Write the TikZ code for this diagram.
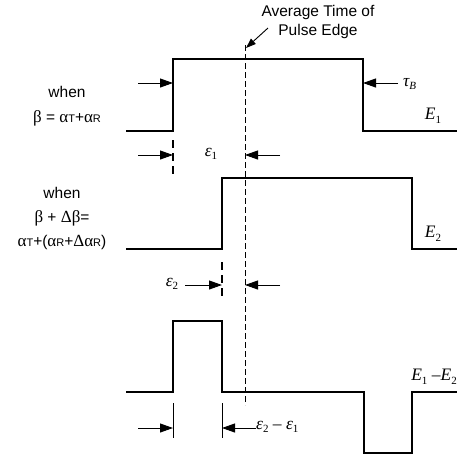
\documentclass[tikz,border=0pt]{standalone}
\usepackage{fontspec}
\setmainfont{Liberation Sans}
\newfontfamily\grk{Liberation Serif}
\usetikzlibrary{arrows.meta}
\newcommand{\sbs}[1]{{\fontsize{11}{12}\selectfont #1}}
\newcommand{\ms}[1]{\raisebox{-3.5pt}{\fontsize{11}{12}\selectfont\upshape #1}}
\newcommand{\mis}[1]{\raisebox{-3.5pt}{\fontsize{11}{12}\selectfont #1}}
\newcommand{\gk}[1]{{\grk\fontsize{17}{19}\selectfont #1}}
\begin{document}
\begin{tikzpicture}[x=1pt,y=-1pt,
 wave/.style={line width=2pt, line join=miter},
 dim/.style={line width=0.9pt,-{Triangle[length=13pt,width=9pt]}},
 guide/.style={line width=0.9pt},
 avgline/.style={line width=0.9pt, dash pattern=on 6pt off 3pt},
 tick/.style={line width=1.8pt, dash pattern=on 8pt off 5pt},
 lbl/.style={inner sep=0pt, font=\fontsize{15.5}{19}\selectfont, align=center},
 mlbl/.style={inner sep=0pt, font=\grk\itshape\fontsize{17.5}{19}\selectfont}]
\useasboundingbox (0,0) rectangle (457,467);
% waveforms
\draw[wave] (126,131) -- (173,131) -- (173,59) -- (363,59) -- (363,131) -- (457,131);
\draw[wave] (126,249) -- (222,249) -- (222,178) -- (412,178) -- (412,249) -- (457,249);
\draw[wave] (126,392) -- (173,392) -- (173,321) -- (222,321) -- (222,392) -- (364,392) -- (364,453) -- (412,453) -- (412,392) -- (457,392);
% average time line
\coordinate (avgtop) at (245,45);
\coordinate (avgbot) at (245,405);
\draw[avgline] (avgtop) -- (avgbot);
\node[lbl] (avg) at (318,22) {Average Time of\\Pulse Edge};
\coordinate (avgfrom) at (268,28);
\coordinate (avgto) at (246,48);
\draw[line width=0.9pt,-{Triangle[length=10pt,width=7pt]}] (avgfrom) -- (avgto);
% row 1
\node[lbl] (w1) at (67,92) {when};
\node[lbl] (b1) at (67,118) {\gk{β} = \gk{α}\sbs{T}+\gk{α}\sbs{R}};
\coordinate (r1a) at (138,83); \coordinate (r1b) at (173,83);
\draw[dim] (r1a) -- (r1b);
\coordinate (t1a) at (398,83); \coordinate (t1b) at (363,83);
\draw[dim] (t1a) -- (t1b);
\node[mlbl, anchor=west] (tau) at (403,84) {τ\mis{B}};
\node[mlbl] (E1) at (433,116) {E\ms{1}};
% epsilon 1
\draw[tick] (173,140) -- (173,178);
\coordinate (e1a) at (138,155); \coordinate (e1b) at (173,155);
\draw[dim] (e1a) -- (e1b);
\node[mlbl] (eps1) at (211,154) {ε\ms{1}};
\coordinate (e1c) at (280,155); \coordinate (e1d) at (245,155);
\draw[dim] (e1c) -- (e1d);
% row 2
\node[lbl] (w2) at (62,193) {when};
\node[lbl] (b2) at (62,218) {\gk{β} + \gk{Δβ}=};
\node[lbl] (b3) at (62,242) {\gk{α}\sbs{T}+(\gk{α}\sbs{R}+\gk{Δα}\sbs{R})};
\node[mlbl] (E2) at (433,234) {E\ms{2}};
% epsilon 2
\draw[tick] (222,262) -- (222,297);
\node[mlbl] (eps2) at (172,284) {ε\ms{2}};
\coordinate (e2b) at (222,285);
\coordinate (e2a) at (185,285);
\draw[dim] (e2a) -- (e2b);
\coordinate (e2c) at (280,285); \coordinate (e2d) at (245,285);
\draw[dim] (e2c) -- (e2d);
% row 3
\node[mlbl, anchor=east] (E12) at (457,377) {E\ms{1} –E\ms{2}};
\draw[guide] (173,403) -- (173,438);
\draw[guide] (222,403) -- (222,438);
\coordinate (d1a) at (138,428); \coordinate (d1b) at (173,428);
\draw[dim] (d1a) -- (d1b);
\node[mlbl, anchor=west] (diff) at (256,427) {ε\ms{2} – ε\ms{1}};
\coordinate (d2b) at (222,428);
\coordinate (d2a) at (256,428);
\draw[dim] (d2a) -- (d2b);
\end{tikzpicture}
\end{document}
